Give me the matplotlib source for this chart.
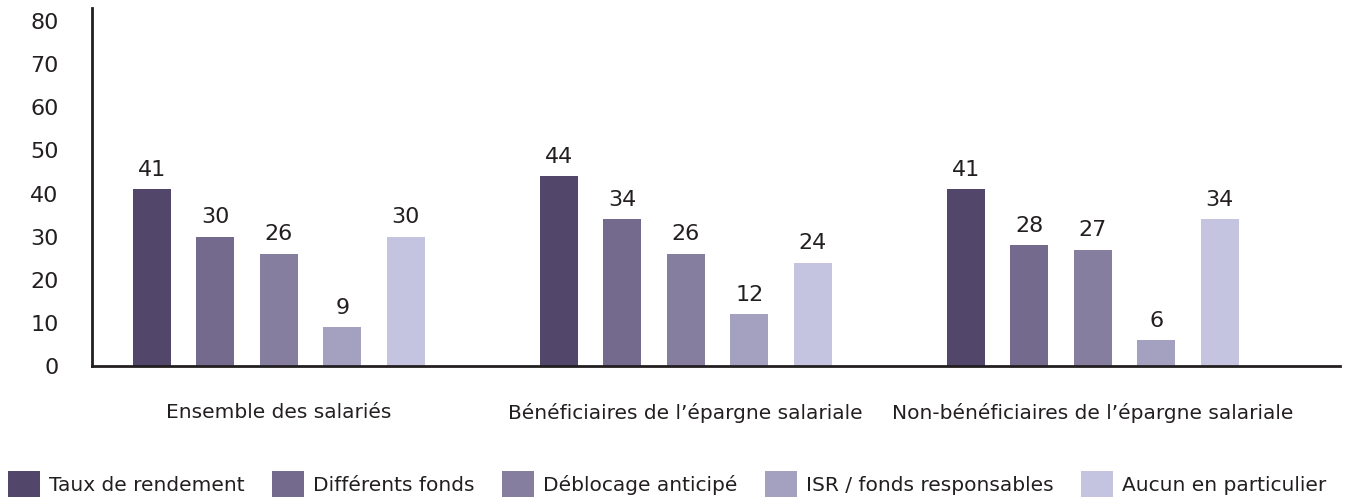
import matplotlib
matplotlib.use('Agg')
import matplotlib.pyplot as plt
import numpy as np

groups = ["Ensemble des salariés", "Bénéficiaires de l’épargne salariale", "Non-bénéficiaires de l’épargne salariale"]
series = ["Taux de rendement", "Différents fonds", "Déblocage anticipé", "ISR / fonds responsables", "Aucun en particulier"]
values = [
    [41, 44, 41],
    [30, 34, 28],
    [26, 26, 27],
    [9, 12, 6],
    [30, 24, 34],
]
colors = ["#52476a", "#736a8e", "#857e9f", "#a4a0c0", "#c5c4e0"]

plt.rcParams['font.family'] = ['DejaVu Sans']
text_color = "#231f20"

fig = plt.figure(figsize=(13.52, 4.97), dpi=100)
ax = fig.add_axes([0.068, 0.2636, 0.923, 0.72])

x = np.arange(len(groups))
step = 0.156
width = 0.094
for i, (name, vals) in enumerate(zip(series, values)):
    pos = x + (i - 2) * step
    ax.bar(pos, vals, width, color=colors[i], label=name)
    for p, v in zip(pos, vals):
        ax.text(p, v + 2.2, str(v), ha='center', va='bottom', fontsize=16, color=text_color)

ax.set_xlim(-0.459, 2.607)
ax.set_ylim(0, 83)
ax.set_yticks(range(0, 81, 10))
ax.set_xticks(x)
ax.set_xticklabels(groups, fontsize=14.5, color=text_color)
ax.tick_params(axis='y', length=0, pad=24, labelsize=16, labelcolor=text_color)
ax.tick_params(axis='x', length=0, pad=27)
for s in ['top', 'right']:
    ax.spines[s].set_visible(False)
for s in ['left', 'bottom']:
    ax.spines[s].set_linewidth(2)
    ax.spines[s].set_color(text_color)

fig.legend(loc='lower left', bbox_to_anchor=(8 / 1352, 0.0), ncol=5, frameon=False,
           fontsize=14.5, handlelength=1.6, handleheight=1.6, columnspacing=1.35,
           handletextpad=0.45, borderpad=0, borderaxespad=0, labelcolor=text_color)

fig.savefig("out.png", dpi=100)
